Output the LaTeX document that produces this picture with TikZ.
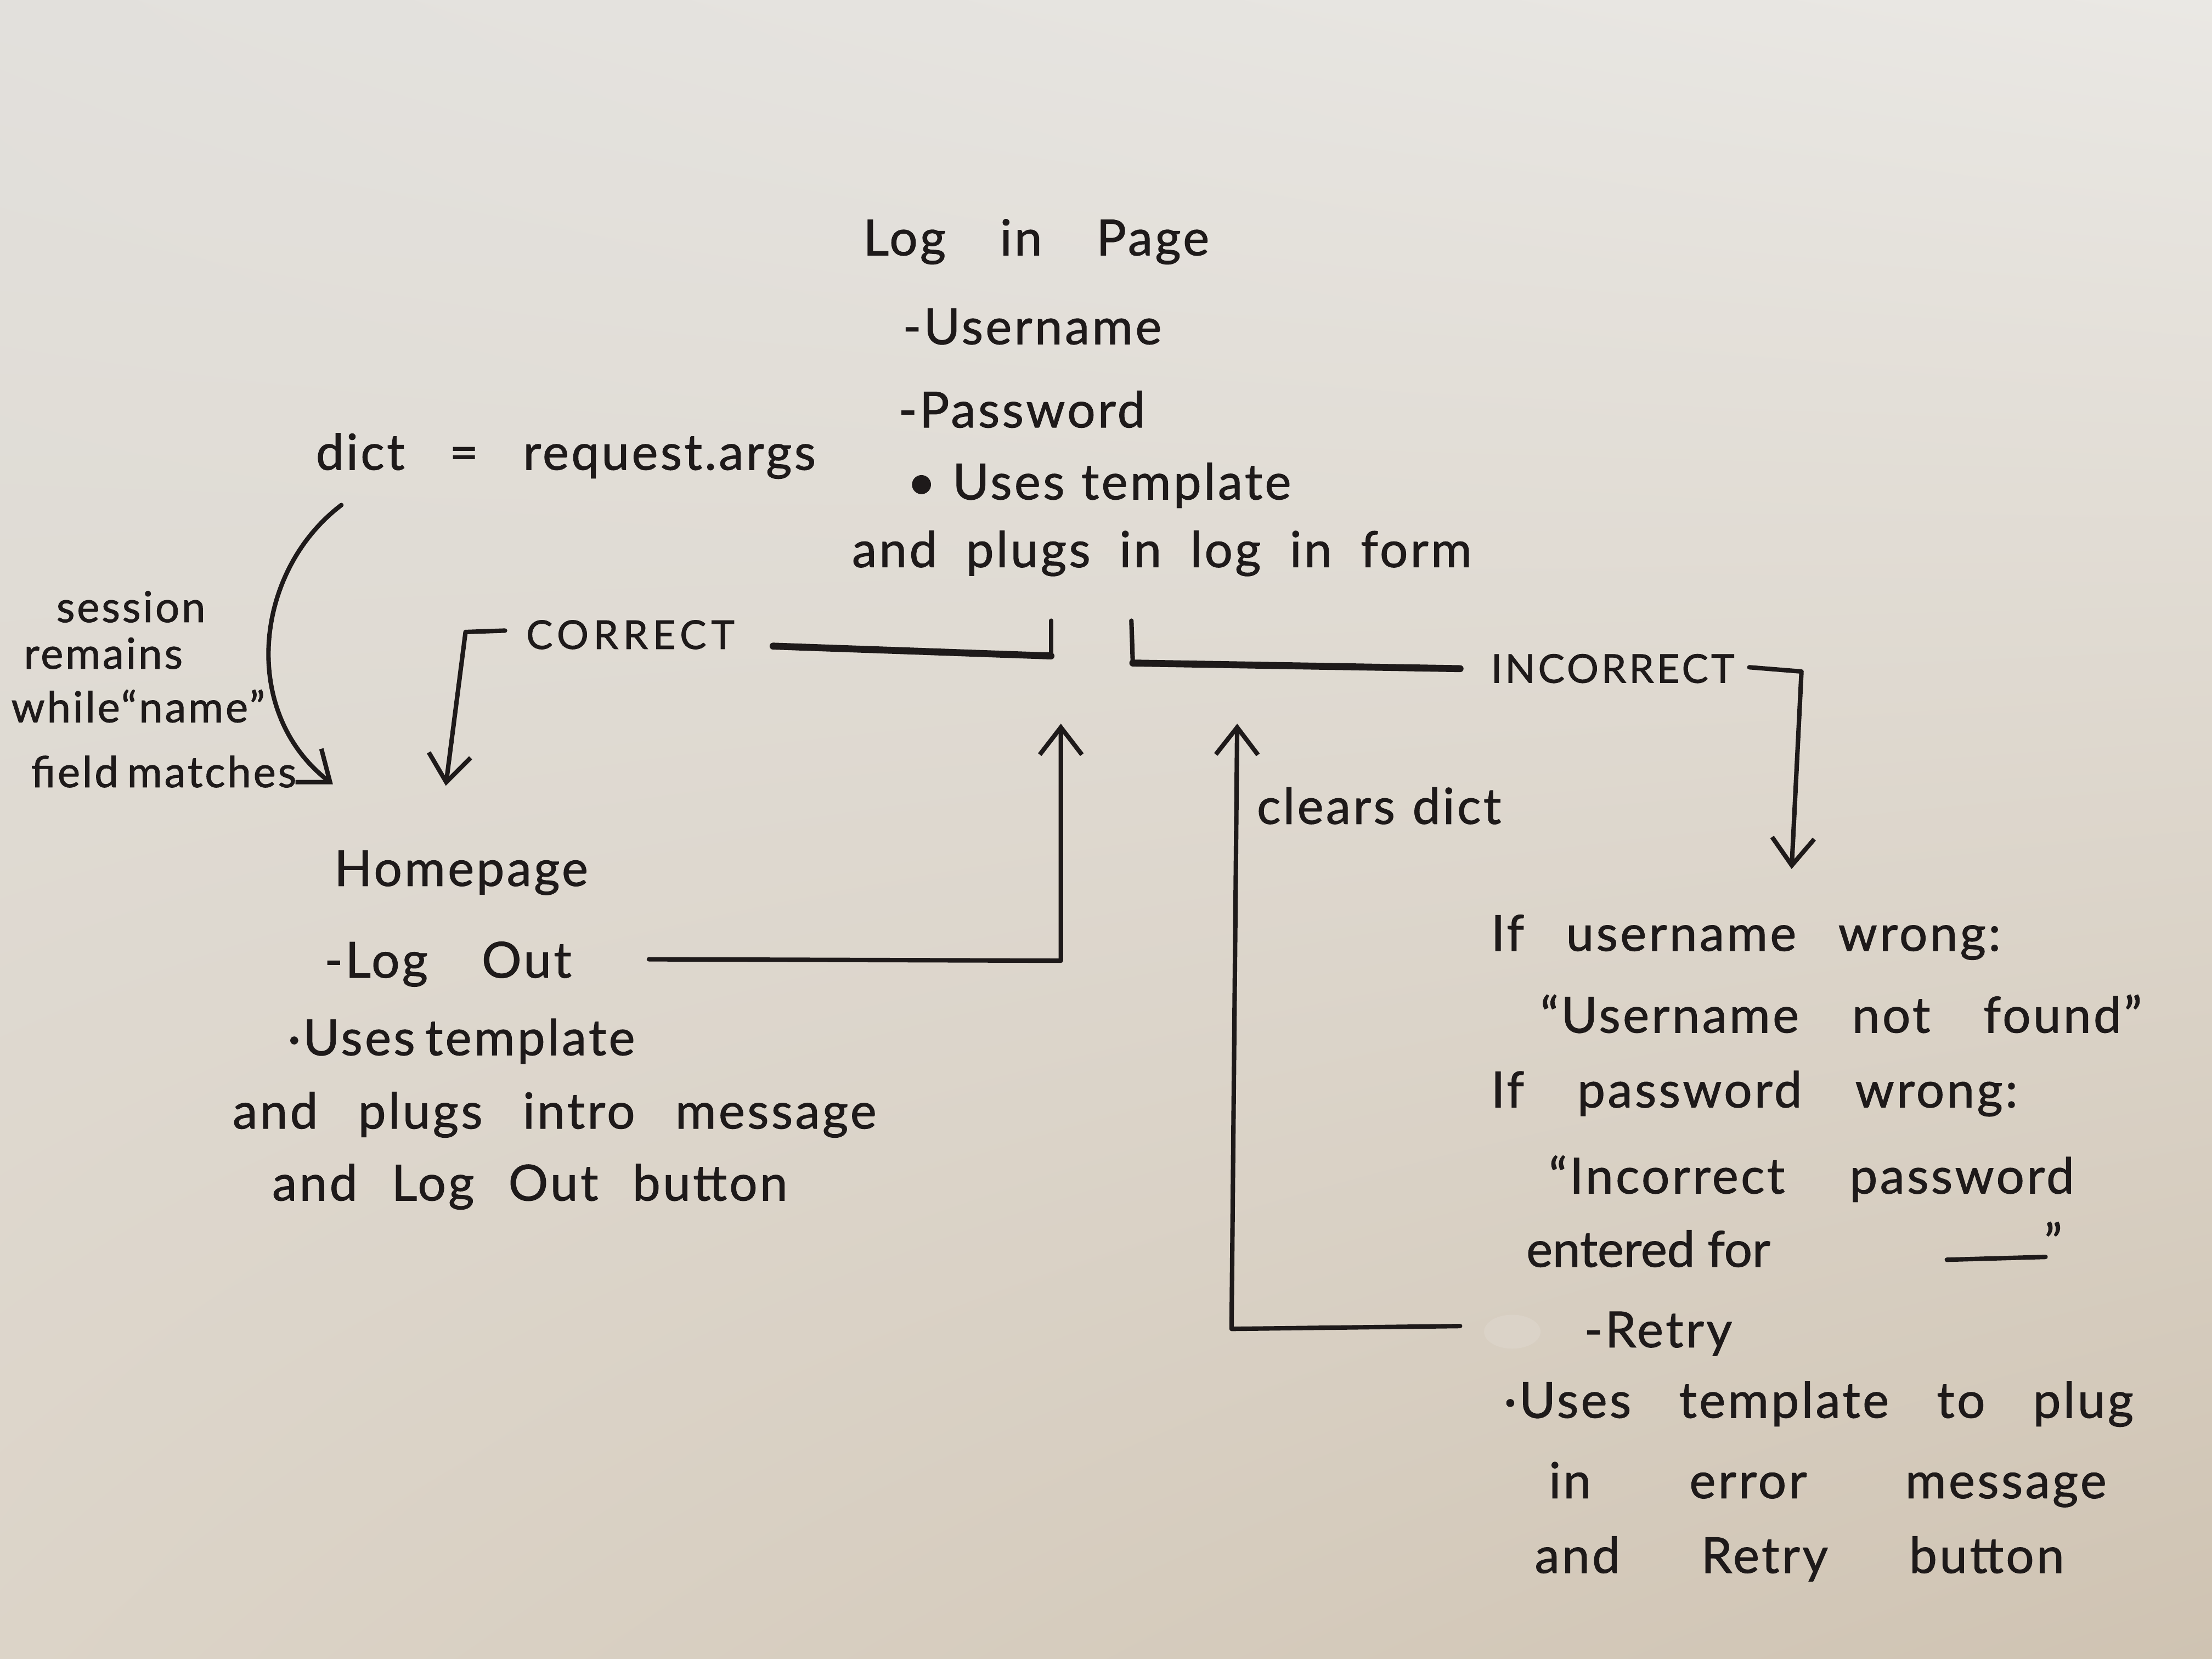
\documentclass[tikz,border=0pt]{standalone}
\usepackage{fontspec}
\setmainfont{Lato}[LetterSpace=5,FakeBold=1.2]
\usetikzlibrary{arrows.meta,calc,shadings}

\definecolor{ink}{RGB}{30,26,26}
\definecolor{paperUL}{RGB}{226,224,220}
\definecolor{paperUR}{RGB}{234,232,228}
\definecolor{paperLL}{RGB}{220,212,200}
\definecolor{paperLR}{RGB}{207,195,178}

% fixed-width line of handwriting: spaces stretch to fill the width
\newcommand\hwline[2]{\makebox[#1][s]{#2}}

\begin{document}
\begin{tikzpicture}[x=0.01cm,y=-0.01cm,
  hand/.style={anchor=base west,inner sep=0pt,outer sep=0pt,text=ink,
               font=\fontsize{10}{12}\selectfont},
  note/.style={hand,font=\fontsize{8.6}{11}\selectfont},
  caps/.style={hand,font=\fontsize{8}{10}\selectfont\addfontfeatures{LetterSpace=12}},
  pen/.style={draw=ink,line width=0.9pt,line cap=round,line join=round},
  heavypen/.style={draw=ink,line width=1.4pt,line cap=round,line join=round},
  barb/.style={-{Straight Barb[length=5.5pt,width=8.5pt,line width=0.9pt]}}]

% paper
\shade[upper left=paperUL,upper right=paperUR,lower left=paperLL,lower right=paperLR]
  (0,0) rectangle (1568,1176);
\path[use as bounding box] (0,0) rectangle (1568,1176);

% ---- Log in page -------------------------------------------------
\node[hand] (lp)  at (612,181) {\hwline{2.45cm}{Log in Page}};
\node[hand] (lpu) at (640,244) {-Username};
\node[hand] (lpp) at (637,303) {-Password};
\node[hand] (lpt) at (643,354) {\hwline{2.72cm}{\textbullet\ Uses template}};
\node[hand] (lpf) at (604,402) {\hwline{4.39cm}{and plugs in log in form}};

\node[hand] (dict) at (224,333) {\hwline{3.54cm}{dict = request.args}};

% session note
\node[note] (s1) at (40,441) {session};
\node[note] (s2) at (17,474) {remains};
\node[note] (s3) at (8,512)  {while``name''};
\node[note] (s4) at (22,558) {\hwline{1.88cm}{field matches}};

% branch labels
\node[caps] (cor) at (373,460) {CORRECT};
\node[caps,font=\fontsize{8}{10}\selectfont\addfontfeatures{LetterSpace=7}] (inc) at (1057,484) {INCORRECT};
\node[hand] (clr) at (891,584) {\hwline{1.73cm}{clears dict}};

% ---- Homepage ----------------------------------------------------
\node[hand] (hp)  at (237,628) {Homepage};
\node[hand] (hpl) at (230,693) {\hwline{1.75cm}{-Log Out}};
\node[hand] (hpt) at (204,748) {\hwline{2.44cm}{·Uses template}};
\node[hand] (hpi) at (165,800) {\hwline{4.56cm}{and plugs intro message}};
\node[hand] (hpb) at (193,851) {\hwline{3.65cm}{and Log Out button}};

% ---- Error page --------------------------------------------------
\node[hand] (e1) at (1057,674)  {\hwline{3.61cm}{If username wrong:}};
\node[hand] (e2) at (1092,732)  {\hwline{4.26cm}{``Username not found''}};
\node[hand] (e3) at (1057,785)  {\hwline{3.73cm}{If password wrong:}};
\node[hand] (e4) at (1098,846)  {\hwline{3.72cm}{``Incorrect password}};
\node[hand,font=\fontsize{10}{12}\selectfont\addfontfeatures{LetterSpace=0}] (e5) at (1082,898) {entered for};
\node[hand] (e5q) at (1449,893) {''};
\node[hand] (er) at (1123,955)  {-Retry};
\node[hand] (e6) at (1066,1005) {\hwline{4.46cm}{·Uses template to plug}};
\node[hand] (e7) at (1098,1062) {\hwline{3.95cm}{in error message}};
\node[hand] (e8) at (1088,1115) {\hwline{3.75cm}{and Retry button}};

% blank to be filled in
\draw[pen] (1380,893) -- (1450,891);

% faint correction-fluid spot before "-Retry"
\fill[white,opacity=0.12] (1072,944) ellipse (20 and 12);

% ---- connectors --------------------------------------------------
\coordinate (cA) at (745,440);
\coordinate (cB) at (745,465);
\coordinate (cC) at (548,458);
\coordinate (cD) at (358,447);
\coordinate (cE) at (330,448);
\coordinate (cF) at (316,557);

\coordinate (iA) at (802,440);
\coordinate (iB) at (803,470);
\coordinate (iC) at (1035,474);
\coordinate (iD) at (1240,473);
\coordinate (iE) at (1277,476);
\coordinate (iF) at (1270,616);

\coordinate (oA) at (460,680);
\coordinate (oB) at (752,681);
\coordinate (oC) at (752,513);

\coordinate (rA) at (1035,940);
\coordinate (rB) at (873,942);
\coordinate (rC) at (877,513);

\coordinate (dA) at (242,358);
\coordinate (dB) at (236,556);

% correct login -> homepage
\draw[pen] (cA) -- (cB);
\draw[heavypen] (cB) -- (cC);
\draw[pen,barb] (cD) -- (cE) -- (cF);

% incorrect login -> error page
\draw[pen] (iA) -- (iB);
\draw[heavypen] (iB) -- (iC);
\draw[pen,barb] (iD) -- (iE) -- (iF);

% log out -> log in page
\draw[pen,barb] (oA) -- (oB) -- (oC);

% retry -> log in page
\draw[pen,barb] (rA) -- (rB) -- (rC);

% session kept while the name matches
\draw[pen,barb] (dA) .. controls (180,405) and (170,505) .. (dB);

\end{tikzpicture}
\end{document}
